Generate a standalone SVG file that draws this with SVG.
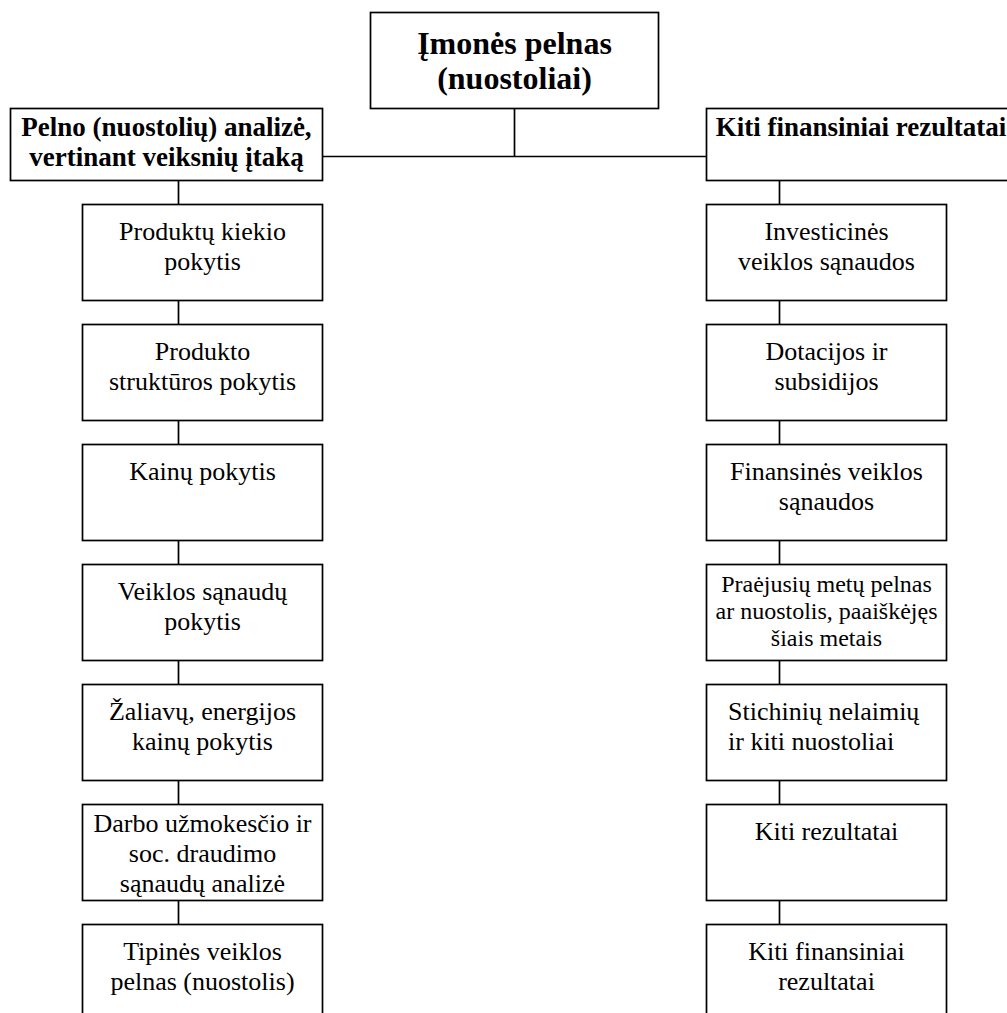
<svg xmlns="http://www.w3.org/2000/svg" width="1007" height="1013" viewBox="0 0 1007 1013">
  <style>
    .box { fill: #fff; stroke: #000; stroke-width: 1.7; }
    .line { fill: none; stroke: #000; stroke-width: 1.7; }
    text { font-family: "Liberation Serif", "Times New Roman", serif; fill: #000; }
    .t { font-size: 26px; text-anchor: middle; }
    .b { font-size: 27px; font-weight: bold; text-anchor: middle; }
    .top { font-size: 32px; font-weight: bold; text-anchor: middle; }
    .s { font-size: 24px; text-anchor: middle; }
    .l { font-size: 26px; text-anchor: start; }
  </style>
  <rect width="1007" height="1013" fill="#fff"/>

  <!-- connectors -->
  <g id="connectors" class="line">
    <path d="M514.5 108.5 V156.5"/>
    <path d="M322.5 156.5 H706.5"/>
    <path d="M178.5 180.5 V204.5 M178.5 300.5 V324.5 M178.5 420.5 V444.5 M178.5 540.5 V564.5 M178.5 660.5 V684.5 M178.5 780.5 V804.5 M178.5 900.5 V924.5"/>
    <path d="M779.5 180.5 V204.5 M779.5 300.5 V324.5 M779.5 420.5 V444.5 M779.5 540.5 V564.5 M779.5 660.5 V684.5 M779.5 780.5 V804.5 M779.5 900.5 V924.5"/>
  </g>

  <!-- root -->
  <g id="imones-pelnas">
    <rect class="box" x="370.5" y="12.5" width="288" height="96"/>
    <text class="top" x="514.5" y="54">Įmonės pelnas</text>
    <text class="top" x="514.5" y="89">(nuostoliai)</text>
  </g>

  <!-- branch headers -->
  <g id="pelno-analize">
    <rect class="box" x="10.5" y="108.5" width="312" height="72"/>
    <text class="b" x="166.5" y="136">Pelno (nuostolių) analizė,</text>
    <text class="b" x="166.5" y="166">vertinant veiksnių įtaką</text>
  </g>
  <g id="kiti-fin-rezultatai">
    <rect class="box" x="706.5" y="108.5" width="320" height="72"/>
    <text class="b" x="861" y="136">Kiti finansiniai rezultatai</text>
  </g>

  <!-- left column -->
  <g id="l1">
    <rect class="box" x="82.5" y="204.5" width="240" height="96"/>
    <text class="t" x="202.5" y="240">Produktų kiekio</text>
    <text class="t" x="202.5" y="270">pokytis</text>
  </g>
  <g id="l2">
    <rect class="box" x="82.5" y="324.5" width="240" height="96"/>
    <text class="t" x="202.5" y="360">Produkto</text>
    <text class="t" x="202.5" y="390">struktūros pokytis</text>
  </g>
  <g id="l3">
    <rect class="box" x="82.5" y="444.5" width="240" height="96"/>
    <text class="t" x="202.5" y="480">Kainų pokytis</text>
  </g>
  <g id="l4">
    <rect class="box" x="82.5" y="564.5" width="240" height="96"/>
    <text class="t" x="202.5" y="600">Veiklos sąnaudų</text>
    <text class="t" x="202.5" y="630">pokytis</text>
  </g>
  <g id="l5">
    <rect class="box" x="82.5" y="684.5" width="240" height="96"/>
    <text class="t" x="202.5" y="720">Žaliavų, energijos</text>
    <text class="t" x="202.5" y="750">kainų pokytis</text>
  </g>
  <g id="l6">
    <rect class="box" x="82.5" y="804.5" width="240" height="96"/>
    <text class="t" x="202.5" y="832">Darbo užmokesčio ir</text>
    <text class="t" x="202.5" y="862">soc. draudimo</text>
    <text class="t" x="202.5" y="892">sąnaudų analizė</text>
  </g>
  <g id="l7">
    <rect class="box" x="82.5" y="924.5" width="240" height="96"/>
    <text class="t" x="202.5" y="960">Tipinės veiklos</text>
    <text class="t" x="202.5" y="990">pelnas (nuostolis)</text>
  </g>

  <!-- right column -->
  <g id="r1">
    <rect class="box" x="706.5" y="204.5" width="240" height="96"/>
    <text class="t" x="826.5" y="240">Investicinės</text>
    <text class="t" x="826.5" y="270">veiklos sąnaudos</text>
  </g>
  <g id="r2">
    <rect class="box" x="706.5" y="324.5" width="240" height="96"/>
    <text class="t" x="826.5" y="360">Dotacijos ir</text>
    <text class="t" x="826.5" y="390">subsidijos</text>
  </g>
  <g id="r3">
    <rect class="box" x="706.5" y="444.5" width="240" height="96"/>
    <text class="t" x="826.5" y="480">Finansinės veiklos</text>
    <text class="t" x="826.5" y="510">sąnaudos</text>
  </g>
  <g id="r4">
    <rect class="box" x="706.5" y="564.5" width="240" height="96"/>
    <text class="s" x="826.5" y="592">Praėjusių metų pelnas</text>
    <text class="s" x="826.5" y="619">ar nuostolis, paaiškėjęs</text>
    <text class="s" x="826.5" y="646">šiais metais</text>
  </g>
  <g id="r5">
    <rect class="box" x="706.5" y="684.5" width="240" height="96"/>
    <text class="l" x="728" y="720">Stichinių nelaimių</text>
    <text class="l" x="728" y="750">ir kiti nuostoliai</text>
  </g>
  <g id="r6">
    <rect class="box" x="706.5" y="804.5" width="240" height="96"/>
    <text class="t" x="826.5" y="840">Kiti rezultatai</text>
  </g>
  <g id="r7">
    <rect class="box" x="706.5" y="924.5" width="240" height="96"/>
    <text class="t" x="826.5" y="960">Kiti finansiniai</text>
    <text class="t" x="826.5" y="990">rezultatai</text>
  </g>
</svg>
